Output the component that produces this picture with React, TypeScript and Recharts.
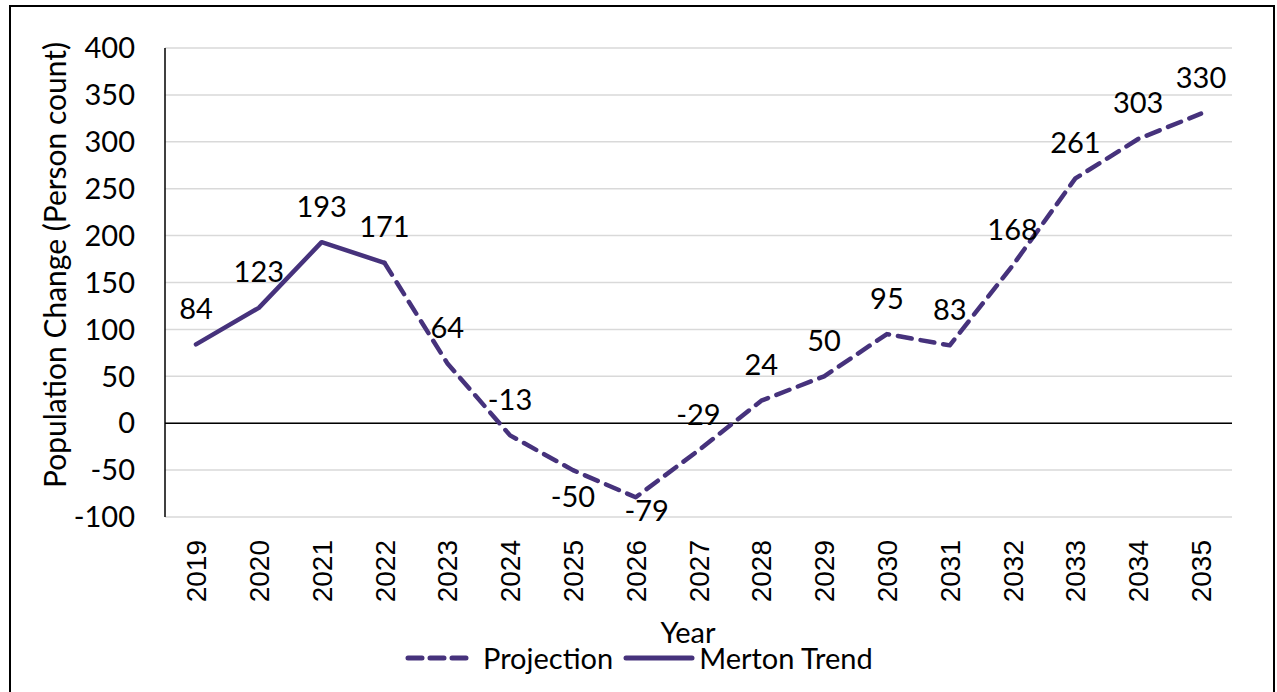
import React from 'react';
import { LineChart, Line, XAxis, YAxis, CartesianGrid, ReferenceLine, Legend, LabelList } from 'recharts';

const years = ['2019', '2020', '2021', '2022', '2023', '2024', '2025', '2026', '2027', '2028', '2029', '2030', '2031', '2032', '2033', '2034', '2035'];
const mertonTrend = [84, 123, 193, 171, null, null, null, null, null, null, null, null, null, null, null, null, null];
const projection = [null, null, null, 171, 64, -13, -50, -79, -29, 24, 50, 95, 83, 168, 261, 303, 330];
const yTicks = [-100, -50, 0, 50, 100, 150, 200, 250, 300, 350, 400];

const PURPLE = '#46327c';
const FONT = 'Lato, "Open Sans", sans-serif';
const TICK_FONT = '"Liberation Sans", Arial, sans-serif';
const FS = 29;

// most labels sit above the point; these were nudged in the original
const labelNudge: Record<string, [number, number]> = {
  '2025': [0, 25],
  '2026': [11, 12],
};

const data = years.map((year, i) => ({
  year,
  trend: mertonTrend[i],
  projection: projection[i],
}));

const XTick = ({ x, y, payload }: any) => (
  <g transform={`translate(${x},${y + 21})`}>
    <text transform="rotate(-90)" textAnchor="end" dy="0.36em" fontSize={28} fontFamily={TICK_FONT} fill="#000">
      {payload.value}
    </text>
  </g>
);

const makeLabel = (skipYear?: string) => (props: any) => {
  const { x, y, value, index } = props;
  if (value == null) return null;
  const year = years[index];
  if (skipYear && year === skipYear) return null;
  const [dx, dy] = labelNudge[year] || [0, -37];
  return (
    <text
      x={x + dx}
      y={y + dy}
      textAnchor="middle"
      dominantBaseline="central"
      fontSize={FS}
      fontFamily={FONT}
      fill="#000"
    >
      {value}
    </text>
  );
};

const LegendContent = () => (
  <div
    style={{
      display: 'flex',
      alignItems: 'center',
      height: 36,
      paddingLeft: 394,
      fontFamily: FONT,
      fontSize: FS,
      color: '#000',
      lineHeight: '36px',
    }}
  >
    <svg width={64} height={12} style={{ marginRight: 14 }}>
      <line x1={3} y1={6} x2={61} y2={6} stroke={PURPLE} strokeWidth={5} strokeDasharray="14 8" strokeLinecap="round" />
    </svg>
    <span style={{ marginRight: 10 }}>Projection</span>
    <svg width={72} height={12} style={{ marginRight: 4 }}>
      <line x1={3} y1={6} x2={69} y2={6} stroke={PURPLE} strokeWidth={5} strokeLinecap="round" />
    </svg>
    <span>Merton Trend</span>
  </div>
);

export default function App() {
  return (
    <div
      style={{
        position: 'absolute',
        left: 9,
        top: 5,
        width: 1262,
        height: 700,
        border: '2px solid #000',
        background: '#fff',
      }}
    >
      <LineChart width={1262} height={685} data={data} margin={{ top: 41, right: 41, bottom: 0, left: 0 }}>
        <CartesianGrid horizontal vertical={false} stroke="#d9d9d9" strokeWidth={1.5} />
        <XAxis
          dataKey="year"
          axisLine={false}
          tickLine={false}
          tickSize={0}
          tick={<XTick />}
          interval={0}
          height={139}
          padding={{ left: 31, right: 31 }}
          label={() => (
            <text x={677} y={624} textAnchor="middle" dominantBaseline="central" fontSize={FS} fontFamily={FONT} fill="#000">
              Year
            </text>
          )}
        />
        <YAxis
          domain={[-100, 400]}
          ticks={yTicks}
          width={154}
          axisLine={{ stroke: '#000', strokeWidth: 1.5 }}
          tickLine={false}
          tickSize={0}
          tickMargin={30}
          interval={0}
          tick={{ fontSize: FS, fontFamily: FONT, fill: '#000' }}
          label={() => (
            <text
              x={43}
              y={258}
              transform="rotate(-90 43 258)"
              textAnchor="middle"
              dominantBaseline="central"
              fontSize={30}
              fontFamily={FONT}
              fill="#000"
            >
              Population Change (Person count)
            </text>
          )}
        />
        <ReferenceLine y={0} stroke="#000" strokeWidth={1.5} />
        <Legend verticalAlign="bottom" content={<LegendContent />} wrapperStyle={{ top: 633, bottom: 'auto', left: 0, width: 1262 }} />
        <Line
          dataKey="projection"
          name="Projection"
          stroke={PURPLE}
          strokeWidth={4.5}
          strokeDasharray="14 9"
          strokeLinecap="round"
          strokeLinejoin="round"
          dot={false}
          connectNulls={false}
          isAnimationActive={false}
        >
          <LabelList dataKey="projection" content={makeLabel('2022')} />
        </Line>
        <Line
          dataKey="trend"
          name="Merton Trend"
          stroke={PURPLE}
          strokeWidth={4.5}
          strokeLinecap="round"
          strokeLinejoin="round"
          dot={false}
          isAnimationActive={false}
        >
          <LabelList dataKey="trend" content={makeLabel()} />
        </Line>
      </LineChart>
    </div>
  );
}
